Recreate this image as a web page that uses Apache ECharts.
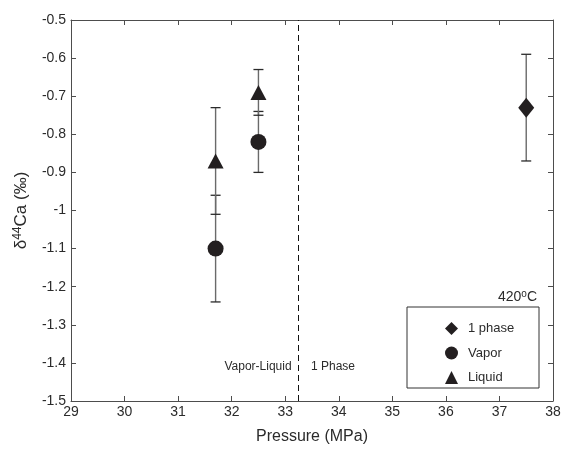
<!DOCTYPE html>
<html>
<head>
<meta charset="utf-8">
<script src="https://cdn.jsdelivr.net/npm/echarts@6/dist/echarts.min.js"></script>
<style>html,body{margin:0;padding:0;background:#fff}#c{width:563px;height:449px}</style>
</head>
<body>
<div id="c"></div>
<script>
// ---- data ----
const onePhaseP = [37.5];
const onePhaseD = [-0.73];
const onePhaseLo = [-0.87];
const onePhaseHi = [-0.59];

const vaporP = [31.7, 32.5];
const vaporD = [-1.10, -0.82];
const vaporLo = [-1.24, -0.90];
const vaporHi = [-0.96, -0.74];

const liquidP = [31.7, 32.5];
const liquidD = [-0.87, -0.69];
const liquidLo = [-1.01, -0.75];
const liquidHi = [-0.73, -0.63];

const boundaryP = 33.24;
const xMin = 29, xMax = 38, xStep = 1;
const yMin = -1.5, yMax = -0.5, yStep = 0.1;

const seriesNames = ['1 phase', 'Vapor', 'Liquid'];
const annotationLeft = 'Vapor-Liquid';
const annotationRight = '1 Phase';

// ---- chart ----
const FONT = 'Liberation Sans, Arial, sans-serif';
const TXT = '#2b2b2b';
const AX = '#4d4d4d';

function pts(P, D) { return P.map((p, i) => [p, D[i]]); }
function errs(P, Lo, Hi) { return P.map((p, i) => [p, Lo[i], Hi[i]]); }

function errRender(params, api) {
  const x = api.value(0);
  const lo = api.coord([x, api.value(1)]);
  const hi = api.coord([x, api.value(2)]);
  const cw = 5;
  return {
    type: 'group',
    children: [
      { type: 'line', shape: { x1: lo[0], y1: lo[1], x2: hi[0], y2: hi[1] }, style: { stroke: '#6a6a6a', lineWidth: 1.4 } },
      { type: 'line', shape: { x1: lo[0] - cw, y1: lo[1], x2: lo[0] + cw, y2: lo[1] }, style: { stroke: '#2a2a2a', lineWidth: 1.3 } },
      { type: 'line', shape: { x1: hi[0] - cw, y1: hi[1], x2: hi[0] + cw, y2: hi[1] }, style: { stroke: '#2a2a2a', lineWidth: 1.3 } }
    ]
  };
}

const chart = echarts.init(document.getElementById('c'), null, { renderer: 'canvas' });
const axisCommon = {
  axisLine: { show: true, lineStyle: { color: AX, width: 1 } },
  axisTick: { show: true, inside: true, length: 5, lineStyle: { color: AX } },
  splitLine: { show: false }
};

chart.setOption({
  animation: false,
  backgroundColor: '#fff',
  textStyle: { fontFamily: FONT },
  grid: { left: 71, right: 10, top: 20, bottom: 48, containLabel: false, outerBoundsMode: 'none' },
  xAxis: [
    Object.assign({
      type: 'value', min: xMin, max: xMax, interval: xStep, position: 'bottom',
      name: 'Pressure (MPa)', nameLocation: 'middle', nameGap: 28,
      nameTextStyle: { fontSize: 16, color: TXT, fontFamily: FONT },
      axisLabel: { fontSize: 14, color: TXT, margin: 4, fontFamily: FONT }
    }, axisCommon),
    Object.assign({
      type: 'value', min: xMin, max: xMax, interval: xStep, position: 'top',
      axisLabel: { show: false }
    }, axisCommon)
  ],
  yAxis: [
    Object.assign({
      type: 'value', min: yMin, max: yMax, interval: yStep, position: 'left',
      name: '{a|δ}{s|44}{a|Ca (‰)}', nameLocation: 'middle', nameGap: 40, nameRotate: 90,
      nameTextStyle: {
        color: TXT, fontFamily: FONT,
        rich: {
          a: { fontSize: 17, color: TXT, fontFamily: FONT },
          s: { fontSize: 12, color: TXT, fontFamily: FONT, verticalAlign: 'top', padding: [0, 0, 7, 0] }
        }
      },
      axisLabel: { fontSize: 14, color: TXT, margin: 5, fontFamily: FONT,
        formatter: v => String(Math.round(v * 10) / 10) }
    }, axisCommon),
    Object.assign({
      type: 'value', min: yMin, max: yMax, interval: yStep, position: 'right',
      axisLabel: { show: false }
    }, axisCommon)
  ],
  legend: {
    orient: 'vertical', left: 440, top: 317, itemWidth: 13, itemHeight: 13, itemGap: 11.5,
    z: 10,
    textStyle: { fontSize: 13, color: TXT, fontFamily: FONT, padding: [0, 0, 0, 5] },
    data: [
      { name: seriesNames[0], icon: 'diamond' },
      { name: seriesNames[1], icon: 'circle' },
      { name: seriesNames[2], icon: 'triangle' }
    ]
  },
  graphic: [
    { type: 'rect', z: 1, shape: { x: 407, y: 307, width: 132, height: 81 },
      style: { fill: '#fff', stroke: '#333', lineWidth: 1 } },
    { type: 'text', z: 2, x: 537, y: 297,
      style: { text: '420{s|o}C', align: 'right', verticalAlign: 'middle', fill: TXT,
        font: '14px ' + FONT,
        rich: { s: { fontSize: 10, fill: TXT, fontFamily: FONT, verticalAlign: 'top', padding: [0, 0, 6, 0] } } } },
    { type: 'text', z: 2, x: 258, y: 367,
      style: { text: annotationLeft, align: 'center', verticalAlign: 'middle', fill: TXT, font: '12px ' + FONT } },
    { type: 'text', z: 2, x: 311, y: 367,
      style: { text: annotationRight, align: 'left', verticalAlign: 'middle', fill: TXT, font: '12px ' + FONT } }
  ],
  series: [
    { type: 'custom', name: 'err1', renderItem: errRender, data: errs(onePhaseP, onePhaseLo, onePhaseHi), z: 1, silent: true },
    { type: 'custom', name: 'err2', renderItem: errRender, data: errs(vaporP, vaporLo, vaporHi), z: 1, silent: true },
    { type: 'custom', name: 'err3', renderItem: errRender, data: errs(liquidP, liquidLo, liquidHi), z: 1, silent: true },
    { type: 'scatter', name: seriesNames[0], symbol: 'diamond', symbolSize: [16, 20], data: pts(onePhaseP, onePhaseD),
      itemStyle: { color: '#231f20', opacity: 1 }, z: 3,
      markLine: { silent: true, symbol: ['none', 'none'], label: { show: false },
        lineStyle: { color: '#111', type: [6, 4], width: 1 },
        data: [[{ coord: [boundaryP, yMin] }, { coord: [boundaryP, yMax] }]] } },
    { type: 'scatter', name: seriesNames[1], symbol: 'circle', symbolSize: 16, data: pts(vaporP, vaporD),
      itemStyle: { color: '#231f20', opacity: 1 }, z: 3 },
    { type: 'scatter', name: seriesNames[2], symbol: 'triangle', symbolSize: [16, 15], data: pts(liquidP, liquidD),
      itemStyle: { color: '#231f20', opacity: 1 }, z: 3 }
  ]
});
</script>
</body>
</html>
